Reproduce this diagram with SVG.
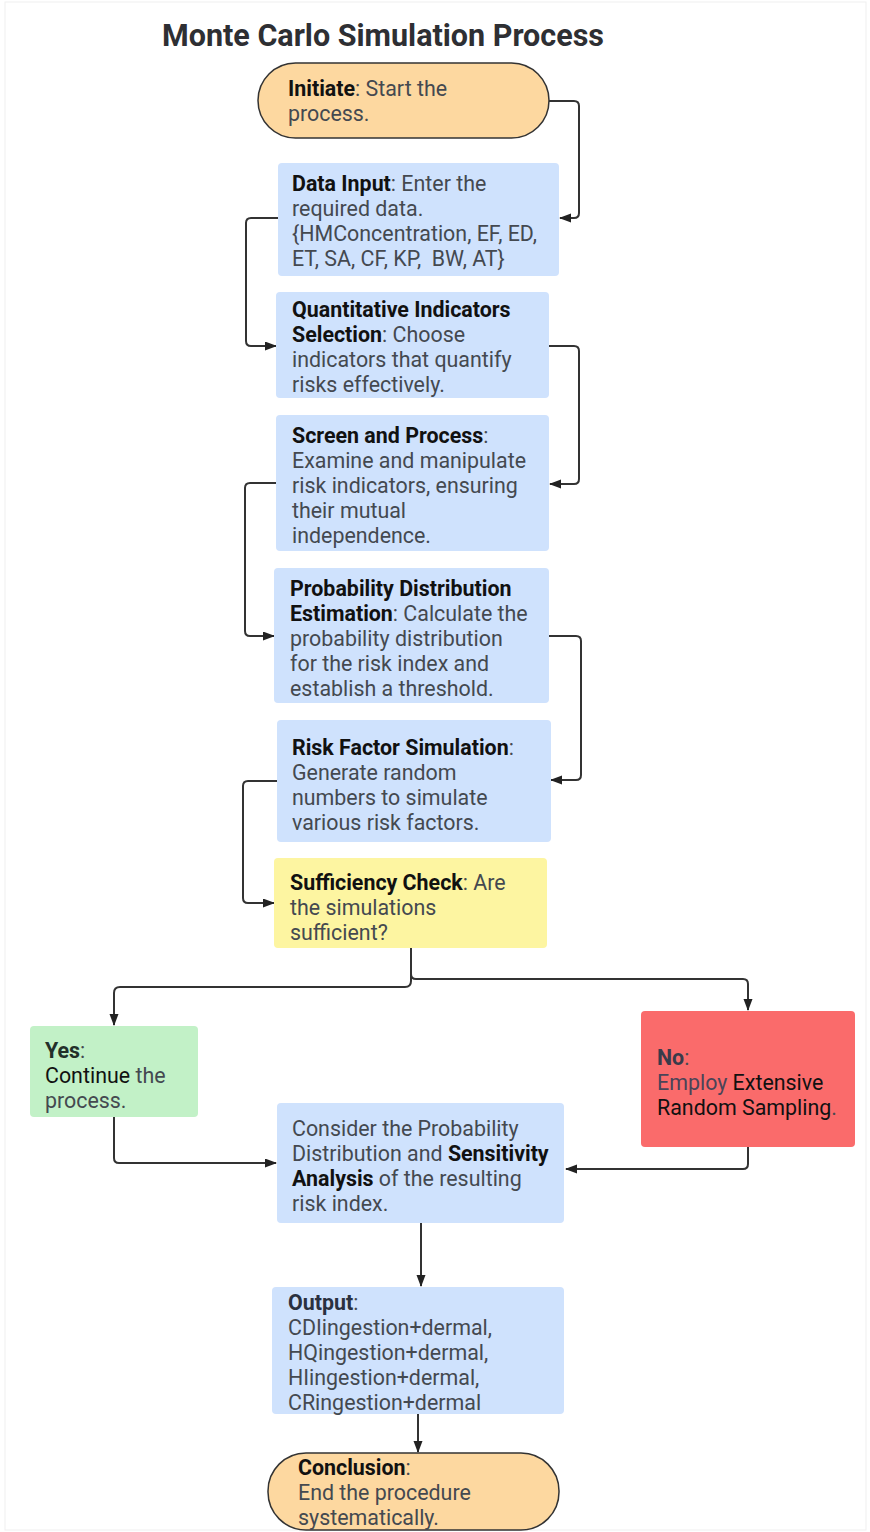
<svg xmlns="http://www.w3.org/2000/svg" width="870" height="1532" viewBox="0 0 870 1532">
  <style>
    text { font-family: Roboto, "Liberation Sans", sans-serif; font-size: 21.4px; fill: #444950; }
    .b { font-weight: bold; fill: #111111; }
    .k { fill: #111111; }
    .title { font-size: 30.5px; font-weight: bold; fill: #2e2f33; }
    .pill { fill: #fdd8a0; stroke: #333333; stroke-width: 1.5; }
    .blue { fill: #cfe2fd; }
    .yellow { fill: #fdf5a1; }
    .green { fill: #c2f1c7; }
    .red { fill: #fa6b6b; }
    .edge { fill: none; stroke: #333333; stroke-width: 2; marker-end: url(#arrow); }
  </style>
  <defs>
    <marker id="arrow" markerUnits="userSpaceOnUse" markerWidth="12" markerHeight="10" refX="11" refY="4.5" orient="auto">
      <path d="M0,0 L12,4.5 L0,9 z" fill="#222222"/>
    </marker>
  </defs>

  <rect x="0" y="0" width="870" height="1532" fill="#ffffff"/>
  <rect x="5" y="2" width="861" height="1528" fill="none" stroke="#efefef" stroke-width="1"/>

  <text class="title" x="162" y="46">Monte Carlo Simulation Process</text>

  <g id="connectors">
    <path class="edge" d="M549,101 H574 Q579,101 579,106 V213 Q579,218 574,218 H560"/>
    <path class="edge" d="M278,218 H251 Q246,218 246,223 V341 Q246,346 251,346 H276"/>
    <path class="edge" d="M549,346 H574 Q579,346 579,351 V479 Q579,484 574,484 H550"/>
    <path class="edge" d="M276,483 H250 Q245,483 245,488 V631 Q245,636 250,636 H274"/>
    <path class="edge" d="M549,636 H576 Q581,636 581,641 V775 Q581,780 576,780 H551"/>
    <path class="edge" d="M277,781 H248 Q243,781 243,786 V898 Q243,903 248,903 H274"/>
    <path class="edge" d="M411,948 V981 Q411,987 405,987 H120 Q114,987 114,993 V1025"/>
    <path class="edge" d="M411,948 V974 Q411,979 416,979 H743 Q748,979 748,984 V1010"/>
    <path class="edge" d="M114,1117 V1158 Q114,1163 119,1163 H276"/>
    <path class="edge" d="M748,1147 V1164 Q748,1169 743,1169 H566"/>
    <path class="edge" d="M421,1223 V1286"/>
    <path class="edge" d="M418,1414 V1452"/>
  </g>

  <g id="initiate">
    <rect class="pill" x="258" y="63" width="291" height="75" rx="37.5"/>
    <text x="288" y="96"><tspan class="b">Initiate</tspan>: Start the</text>
    <text x="288" y="121">process.</text>
  </g>

  <g id="data-input">
    <rect class="blue" x="278" y="163" width="281" height="113" rx="4"/>
    <text x="292" y="191"><tspan class="b">Data Input</tspan>: Enter the</text>
    <text x="292" y="216">required data.</text>
    <text x="292" y="241">{HMConcentration, EF, ED,</text>
    <text x="292" y="266" xml:space="preserve">ET, SA, CF, KP,  BW, AT}</text>
  </g>

  <g id="indicator-selection">
    <rect class="blue" x="276" y="292" width="273" height="106" rx="4"/>
    <text x="292" y="317" class="b">Quantitative Indicators</text>
    <text x="292" y="342"><tspan class="b">Selection</tspan>: Choose</text>
    <text x="292" y="367">indicators that quantify</text>
    <text x="292" y="392">risks effectively.</text>
  </g>

  <g id="screen-process">
    <rect class="blue" x="276" y="415" width="273" height="136" rx="4"/>
    <text x="292" y="443"><tspan class="b">Screen and Process</tspan>:</text>
    <text x="292" y="468">Examine and manipulate</text>
    <text x="292" y="493">risk indicators, ensuring</text>
    <text x="292" y="518">their mutual</text>
    <text x="292" y="543">independence.</text>
  </g>

  <g id="distribution-estimation">
    <rect class="blue" x="274" y="568" width="275" height="135" rx="4"/>
    <text x="290" y="596" class="b">Probability Distribution</text>
    <text x="290" y="621"><tspan class="b">Estimation</tspan>: Calculate the</text>
    <text x="290" y="646">probability distribution</text>
    <text x="290" y="671">for the risk index and</text>
    <text x="290" y="696">establish a threshold.</text>
  </g>

  <g id="factor-simulation">
    <rect class="blue" x="277" y="720" width="274" height="122" rx="4"/>
    <text x="292" y="755"><tspan class="b">Risk Factor Simulation</tspan>:</text>
    <text x="292" y="780">Generate random</text>
    <text x="292" y="805">numbers to simulate</text>
    <text x="292" y="830">various risk factors.</text>
  </g>

  <g id="sufficiency-check">
    <rect class="yellow" x="274" y="858" width="273" height="90" rx="4"/>
    <text x="290" y="890"><tspan class="b">Sufficiency Check</tspan>: Are</text>
    <text x="290" y="915">the simulations</text>
    <text x="290" y="940">sufficient?</text>
  </g>

  <g id="yes">
    <rect class="green" x="30" y="1026" width="168" height="91" rx="4"/>
    <text x="45" y="1058"><tspan class="b" style="fill:#23302a">Yes</tspan>:</text>
    <text x="45" y="1083"><tspan class="k">Continue</tspan> the</text>
    <text x="45" y="1108">process.</text>
  </g>

  <g id="no">
    <rect class="red" x="641" y="1011" width="214" height="136" rx="4"/>
    <text x="657" y="1065"><tspan class="b" style="fill:#393b4a">No</tspan>:</text>
    <text x="657" y="1090"><tspan style="fill:#4a4458">Employ</tspan> <tspan class="k">Extensive</tspan></text>
    <text x="657" y="1115"><tspan class="k">Random Sampling</tspan>.</text>
  </g>

  <g id="sensitivity-analysis">
    <rect class="blue" x="277" y="1103" width="287" height="120" rx="4"/>
    <text x="292" y="1136">Consider the Probability</text>
    <text x="292" y="1161">Distribution and <tspan class="b">Sensitivity</tspan></text>
    <text x="292" y="1186"><tspan class="b">Analysis</tspan> of the resulting</text>
    <text x="292" y="1211">risk index.</text>
  </g>

  <g id="output">
    <rect class="blue" x="272" y="1287" width="292" height="127" rx="4"/>
    <text x="288" y="1310"><tspan class="b" style="fill:#2a3140">Output</tspan>:</text>
    <text x="288" y="1335">CDIingestion+dermal,</text>
    <text x="288" y="1360">HQingestion+dermal,</text>
    <text x="288" y="1385">HIingestion+dermal,</text>
    <text x="288" y="1410">CRingestion+dermal</text>
  </g>

  <g id="conclusion">
    <rect class="pill" x="268" y="1453" width="291" height="77" rx="38"/>
    <text x="298" y="1475"><tspan class="b">Conclusion</tspan>:</text>
    <text x="298" y="1500">End the procedure</text>
    <text x="298" y="1525">systematically.</text>
  </g>
</svg>
